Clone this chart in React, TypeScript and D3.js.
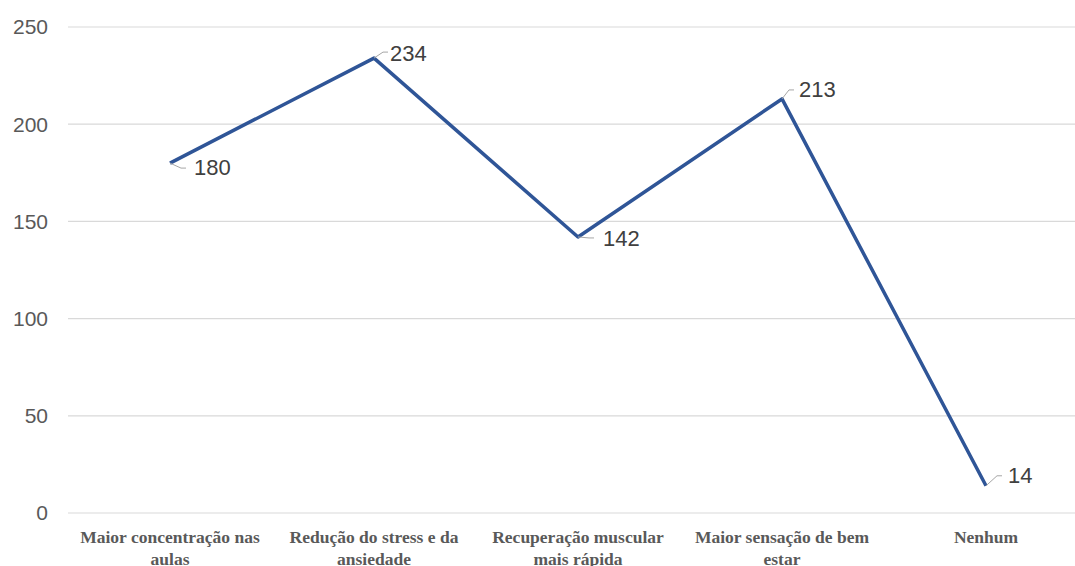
import React from "react";
import * as d3 from "d3";

const categories: string[][] = [
  ["Maior concentração nas", "aulas"],
  ["Redução do stress e da", "ansiedade"],
  ["Recuperação muscular", "mais rápida"],
  ["Maior sensação de bem", "estar"],
  ["Nenhum"],
];
const values: number[] = [180, 234, 142, 213, 14];
const yTicks: number[] = [0, 50, 100, 150, 200, 250];

// label placement relative to each point: [leader end dx, dy, text dx, dy]
const labelOffsets: [number, number, number, number][] = [
  [16, 5, 24, 4],
  [14, -6, 16, -5],
  [16, 1, 25, 1],
  [12, -9, 17, -10],
  [16, -10, 22, -10],
];

const W = 1075;
const H = 566;

export default function App() {
  const x = d3
    .scalePoint<number>()
    .domain(values.map((_, i) => i))
    .range([170, 986]);
  const y = d3.scaleLinear().domain([0, 250]).range([513, 27]);

  const line = d3
    .line<number>()
    .x((_, i) => x(i)!)
    .y((d) => y(d));

  return (
    <svg
      width={W}
      height={H}
      style={{ position: "absolute", left: 0, top: 0, background: "#fff" }}
    >
      {yTicks.map((t) => (
        <g key={t}>
          <line
            x1={68}
            x2={W}
            y1={y(t)}
            y2={y(t)}
            stroke="#d9d9d9"
            strokeWidth={1.2}
          />
          <text
            x={48}
            y={y(t)}
            dy="0.35em"
            textAnchor="end"
            fontFamily="Liberation Sans, Arial, sans-serif"
            fontSize={21}
            fill="#595959"
          >
            {t}
          </text>
        </g>
      ))}
      {categories.map((lines, i) => (
        <text
          key={i}
          x={x(i)}
          y={543}
          textAnchor="middle"
          fontFamily="Liberation Serif, serif"
          fontWeight="bold"
          fontSize={17.5}
          fill="#595959"
        >
          {lines.map((l, j) => (
            <tspan key={j} x={x(i)} dy={j === 0 ? 0 : 22}>
              {l}
            </tspan>
          ))}
        </text>
      ))}
      <path
        d={line(values) || ""}
        fill="none"
        stroke="#2f5597"
        strokeWidth={3.5}
        strokeLinejoin="round"
      />
      {values.map((v, i) => {
        const px = x(i)!;
        const py = y(v);
        const [lx, ly, tx, ty] = labelOffsets[i];
        const mid = lx - 5;
        return (
          <g key={i}>
            <polyline
              points={`${px},${py} ${px + mid},${py + ly} ${px + lx},${py + ly}`}
              fill="none"
              stroke="#a6a6a6"
              strokeWidth={1}
            />
            <text
              x={px + tx}
              y={py + ty}
              dy="0.35em"
              fontFamily="Liberation Sans, Arial, sans-serif"
              fontSize={22}
              fill="#404040"
            >
              {v}
            </text>
          </g>
        );
      })}
    </svg>
  );
}
